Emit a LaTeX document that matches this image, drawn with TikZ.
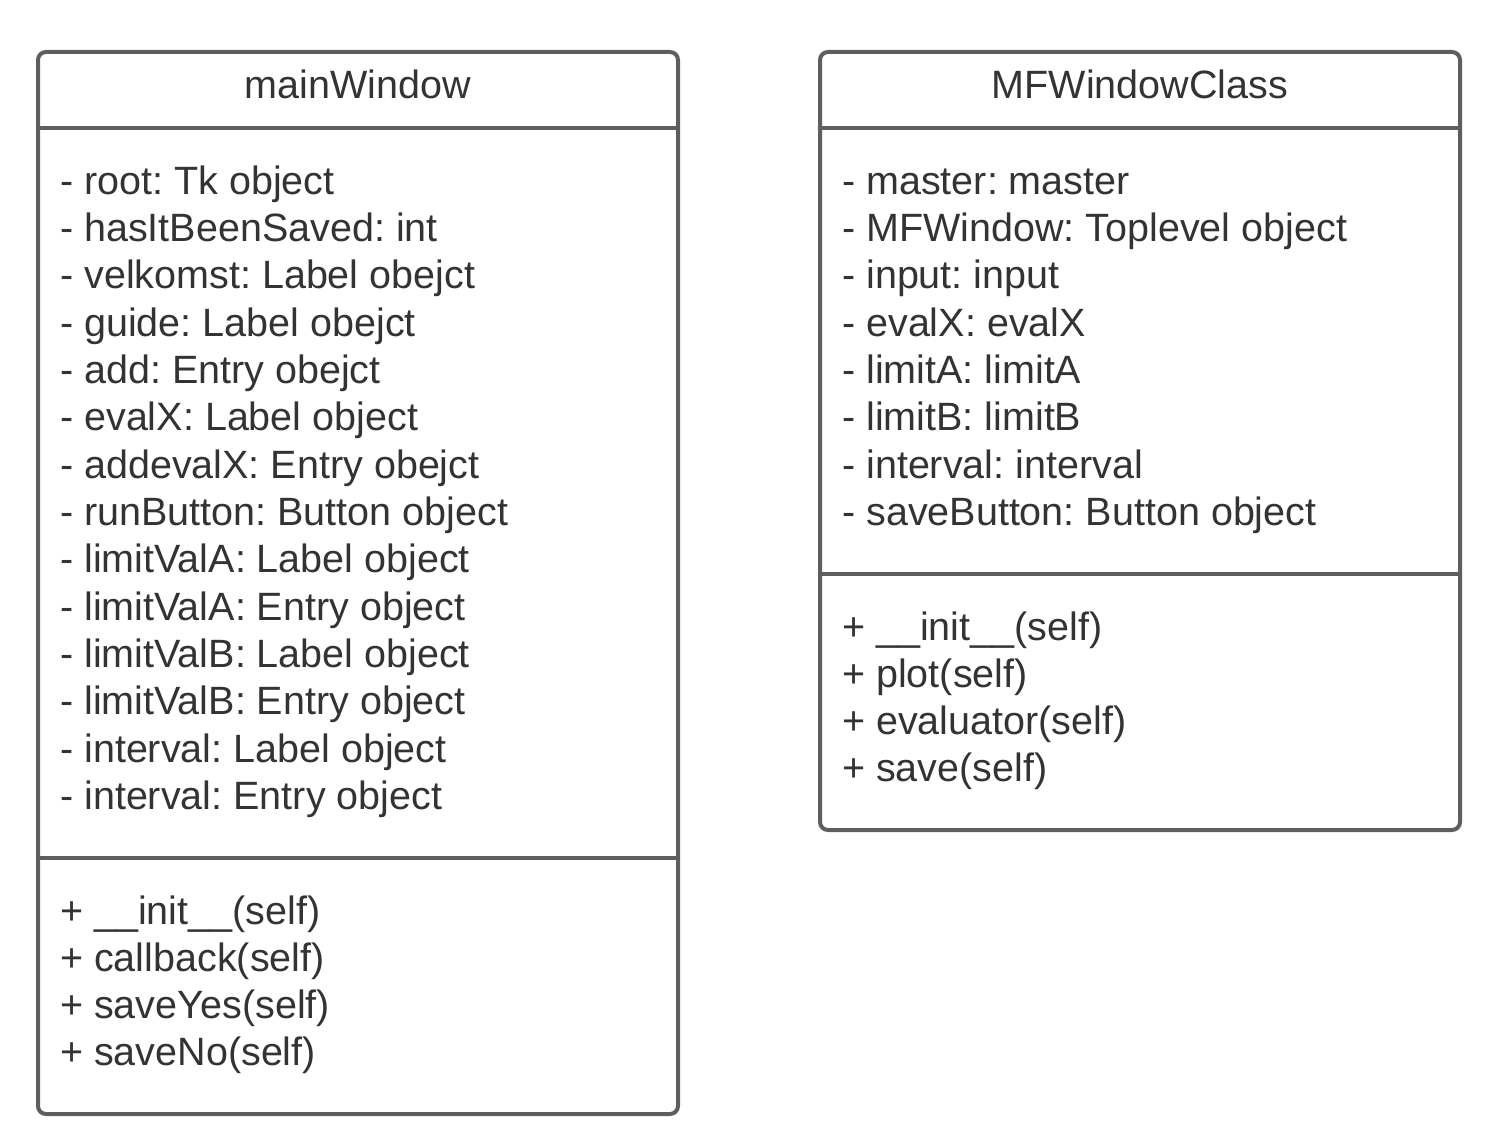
\documentclass[tikz,border=0pt]{standalone}
\usepackage{fontspec}
\setmainfont{Liberation Sans}
\definecolor{bordc}{HTML}{5E5E5E}
\definecolor{txtc}{HTML}{333333}
\frenchspacing
\begin{document}
\begin{tikzpicture}[x=1pt,y=-1pt,
  box/.style={draw=bordc,line width=4pt,rounded corners=8pt},
  sep/.style={draw=bordc,line width=4pt},
  txt/.style={anchor=base west,inner sep=0pt,text=txtc,font=\fontsize{39.5}{47}\selectfont\frenchspacing},
  ttl/.style={anchor=base,inner sep=0pt,text=txtc,font=\fontsize{39.5}{47}\selectfont\frenchspacing}]
\useasboundingbox (0,0) rectangle (1500,1148);
% left class
\draw[box] (38,52) rectangle (678,1114);
\draw[sep] (38,128) -- (678,128);
\draw[sep] (38,858) -- (678,858);
\node[ttl] (mwt) at (358,99) {mainWindow};
\foreach \t [count=\i from 0] in {- root: Tk object,- hasItBeenSaved: int,- velkomst: Label obejct,- guide: Label obejct,- add: Entry obejct,- evalX: Label object,- addevalX: Entry obejct,- runButton: Button object,- limitValA: Label object,- limitValA: Entry object,- limitValB: Label object,- limitValB: Entry object,- interval: Label object,- interval: Entry object}
  \node[txt] (mwa\i) at (60,{194+47.35*\i}) {\t};
\foreach \t [count=\i from 0] in {+ \_\_init\_\_(self),+ callback(self),+ saveYes(self),+ saveNo(self)}
  \node[txt] (mwm\i) at (60,{924+47.3*\i}) {\t};
% right class
\draw[box] (820,52) rectangle (1460,830);
\draw[sep] (820,128) -- (1460,128);
\draw[sep] (820,574) -- (1460,574);
\node[ttl] (mft) at (1140,99) {MFWindowClass};
\foreach \t [count=\i from 0] in {- master: master,- MFWindow: Toplevel object,- input: input,- evalX: evalX,- limitA: limitA,- limitB: limitB,- interval: interval,- saveButton: Button object}
  \node[txt] (mfa\i) at (842,{194+47.35*\i}) {\t};
\foreach \t [count=\i from 0] in {+ \_\_init\_\_(self),+ plot(self),+ evaluator(self),+ save(self)}
  \node[txt] (mfm\i) at (842,{640+47.3*\i}) {\t};
\end{tikzpicture}
\end{document}
